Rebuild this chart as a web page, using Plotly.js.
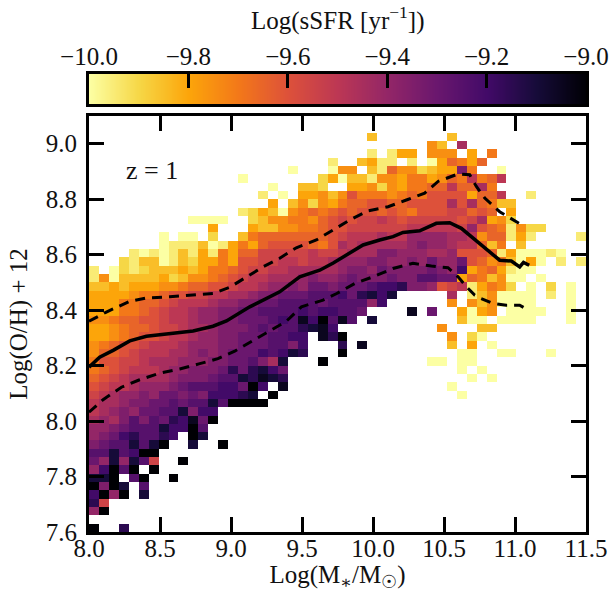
<!DOCTYPE html>
<html><head><meta charset="utf-8"><script src="https://cdn.plot.ly/plotly-3.0.1.min.js"></script>
<style>html,body{margin:0;padding:0;background:#fff}</style></head><body><div id="c" style="width:613px;height:592px"></div>
<script>
// Colour levels per cell: sSFR = -10 + 0.05*level. Each row (top to bottom) lists runs: [startColumn, level, level, ...]
const cellRows = [
[],[],
[[28,3],[36,3]],
[[34,5,3],[37,11]],
[[28,1],[30,1,4,4],[34,5,5,5],[38,4],[40,6]],
[[24,1],[27,3,4,1,1],[32,1],[34,0,4,7,6,4,7]],
[[20,0],[24,0,5,5],[28,3,1,7,5,5,2,3,4,4,13,6],[41,0]],
[[15,0],[23,2,4,0,3,3,1,5,5,4,6,6,4,5,7,6,10,6,7,10]],
[[18,0],[21,3,3,2],[26,4,4,5,2,5,4,6,6,7,7,10,7,7,11,6]],
[[17,1],[19,0],[21,4,4,5,3,5,8,6,6,6,5,6,7,6,8,8,8,8,4,7,7,10],[44,1]],
[[18,4],[20,3,5,2,5,4,6,7,7,8,8,7,7,8,8,8,8,11,8,11,7,6,3,3]],
[[15,1,2,4,3,0,5,6,7,6,7,8,7,8,8,7,8,7,6,8,8,8,9,9,7,8,7],[42,4]],
[[10,0,0,0,0],[16,2,3,5,5,6,6,5,7,8,9,8,9,9,10,9,8,9,9,9,9,9,8,9,11,4,5,2]],
[[12,4],[16,4,3,3,5,5,6,6,7,8,8,9,9,9,9,9,9,10,10,10,10,10,9,12,8,7,6,1,5,2,2]],
[[7,0],[9,0,0],[12,2],[15,3,6,7,7,7,7,7,7,7,8,9,10,10,10,11,10,10,12,12,12,12,11,11,10,5,7,7,1,4,1],[49,1]],
[[7,0,1,1,1,3,0,1,4,6,4,7,8,8,8,8,7,6,8,11,10,11,11,11,11,11,12,13,12,12,11,10,10,7,3,6],[43,3]],
[[4,1,0,1,0,1,3,1,4,1,6,4,7,7,9,9,9,9,9,10,9,9,10,11,11,11,13,13,12,12,12,11,11,12,8,8,8,7,1,4,0,0,0,1,0]],
[[3,2,1,3,3,0,1,3,2,4,4,6,4,8,8,9,9,10,10,9,10,10,11,12,12,12,13,13,12,12,13,12,14,12,12,14,8,7,5,6,3,0,4,0],[47,1],[49,1]],
[[0,1],[2,0,2,1,2,3,3,3,4,3,4,6,6,7,8,9,9,10,10,11,11,11,11,11,12,13,13,12,14,13,13,13,13,14,13,12,16,4,6,7,4,1,0,0]],
[[0,1,5,0,3,3,3,3,4,2,3,5,5,6,7,8,9,10,10,11,11,11,12,13,12,12,13,14,13,13,13,14,13,13,15,15,14,14,4,7,6,3,5,0,0],[45,0]],
[[0,3,3,4,3,4,4,4,5,5,6,7,7,8,8,9,10,10,11,12,12,13,12,14,14,13,14,14,14,15,16,16,17,13,13,12,8,9,10,1,4,6,5,2],[44,0],[46,2],[48,0]],
[[0,4,4,4,4,5,6,6,7,8,8,9,9,10,10,11,11,12,13,13,14,14,14,15,15,15,16,14,17,18,16,18],[36,11],[38,1,3,5,0,0,0,0],[46,1],[48,0]],
[[0,4,4,4,6,6,7,7,8,9,10,10,10,11,12,12,13,13,14,14,15,15,15,15,14,15,15,15,15,12,16],[36,5],[38,5,3,5,0,0,0,0],[48,0]],
[[0,4,4,4,6,6,7,8,9,10,10,11,12,12,13,13,14,14,15,15,15,15,16,15,16,16,15,15,14],[32,19],[34,14],[37,4,0,4,5],[42,0,0,0,0],[48,0]],
[[0,5,5,6,7,7,8,8,9,10,10,11,12,12,13,13,14,14,14,15,16,15,19,16,20,15,19,15],[28,18],[37,3,0,0],[41,0,0,0,0],[48,0]],
[[0,4,4,5,6,7,7,8,9,9,10,11,11,12,13,13,13,14,15,14,15,15,17,18,19,16],[35,5],[39,3,3]],
[[0,4,4,5,6,7,8,8,9,10,10,11,12,12,13,13,14,14,14,15,15,16,16],[23,19,17,20],[36,5],[38,2,0]],
[[0,5,6,7,8,8,9,10,10,10,11,12,12,12,13,13,14,14,14,15,15,13,16],[25,17],[27,19],[36,3],[38,4],[40,0]],
[[0,5,7,7,8,9,10,10,10,11,11,12,13,12,13,14,14,14,16,15,16,18,17],[25,20],[37,0,0],[41,0,0],[46,0]],
[[0,6,8,8,9,9,10,11,11,11,12,12,12,13,13,14,14,15,13,11,18],[23,20],[34,0,0],[37,0,0]],
[[0,6,7,8,9,10,10,10,11,12,12,13,13,13,14,17,14,17,18,16,14],[37,0],[39,0]],
[[0,7,8,9,10,11,11,11,11,12,13,13,13,14,15,15,18,17,19,18,17],[38,0],[40,0]],
[[0,8,9,10,10,11,12,12,12,13,14,15,15,15,16,16,14,20,16],[19,19],[36,0]],
[[0,9,10,11,12,12,13,12,14,14,13,14,13,16,16,16,17,18],[18,20],[37,0]],
[[0,10,11,11,12,13,13,14,14,15,14,15,15,18,15,20,20,20,20]],
[[0,10,11,12,13,12,14,14,15,15,18,13,16,16]],
[[0,11,12,11,13,15,13,15,14,17,16,19,14,20]],
[[0,12,12,13,14,15,15,15,18,16,16,20,15]],
[[0,12,13,14,16,17,15,15,17,16],[10,20,18]],
[[0,13,14,15,15,18,15,18,20],[10,18],[13,20]],
[[0,15,15,18,15,16,20,20]],
[[0,14,12,18,12,18,15,9],[9,20]],
[[0,12,16,20,15,20],[6,20]],
[[0,18,18,20],[4,15,20],[8,20]],
[[0,20,13,20,18],[5,15]],
[[0,16,20,12,20],[5,18]],
[[0,17,9]],
[[0,12,20]],
[],
[[0,20],[3,17]]
];
const medianX = [8.0,8.075,8.17,8.287,8.404,8.545,8.733,8.873,8.968,9.132,9.343,9.484,9.625,9.72,9.813,9.93,10.047,10.141,10.211,10.329,10.446,10.54,10.622,10.704,10.787,10.892,10.974,11.033,11.06,11.1];
const medianY = [8.194,8.23,8.255,8.289,8.306,8.315,8.325,8.342,8.361,8.412,8.466,8.52,8.544,8.57,8.599,8.635,8.653,8.665,8.68,8.686,8.713,8.715,8.695,8.659,8.623,8.58,8.577,8.556,8.572,8.562];
const upperX = [8.0,8.122,8.287,8.404,8.568,8.733,8.873,8.99,9.108,9.225,9.343,9.46,9.601,9.72,9.836,9.965,10.106,10.235,10.364,10.458,10.599,10.681,10.728,10.787,10.892,11.038];
const upperY = [8.36,8.393,8.432,8.444,8.448,8.454,8.46,8.482,8.52,8.556,8.587,8.625,8.653,8.69,8.725,8.758,8.773,8.797,8.822,8.864,8.891,8.888,8.846,8.804,8.755,8.71];
const lowerX = [8.0,8.099,8.228,8.357,8.498,8.639,8.78,8.908,9.026,9.155,9.284,9.39,9.496,9.648,9.745,9.871,10.0,10.141,10.282,10.411,10.528,10.599,10.658,10.716,10.751,10.845,10.939,11.033,11.092];
const lowerY = [8.032,8.077,8.122,8.149,8.173,8.188,8.207,8.225,8.252,8.291,8.33,8.36,8.412,8.436,8.46,8.496,8.52,8.55,8.569,8.559,8.553,8.52,8.484,8.454,8.444,8.424,8.418,8.418,8.4];
const cbTicks = [-10,-9.8,-9.6,-9.4,-9.2,-9];
const xTicks = [8,8.5,9,9.5,10,10.5,11,11.5];
const yTicks = [7.6,7.8,8,8.2,8.4,8.6,8.8,9];

const nCols=50, nRows=50, dx=0.07, dy=0.03;
const xc=[]; for(let i=0;i<nCols;i++) xc.push(8+dx*(i+0.5));
const yc=[]; for(let j=0;j<nRows;j++) yc.push(9.1-dy*(j+0.5));
const z=cellRows.map(segs=>{
  const r=new Array(nCols).fill(null);
  segs.forEach(s=>{for(let k=1;k<s.length;k++) r[s[0]+k-1]=-10+0.05*s[k];});
  return r;
});
const FONT='"Liberation Serif","DejaVu Serif",serif';
const TC='#111';
const inferno_r=[[0,'#fcffa4'],[0.1,'#f6d746'],[0.2,'#fca50a'],[0.3,'#f37819'],[0.4,'#dd513a'],[0.5,'#bc3754'],[0.6,'#932667'],[0.7,'#6a176e'],[0.8,'#420a68'],[0.9,'#160b39'],[1,'#000004']];
const lineTrace=(x,y,dash,w)=>({type:'scatter',mode:'lines',x,y,hoverinfo:'skip',showlegend:false,line:{color:'#000',width:w,dash}});
// gradient strip of the colour key
const cbX=[]; for(let i=0;i<=200;i++) cbX.push(-10+i/200);
const traces=[
{type:'heatmap',x:xc,y:yc,z,zmin:-10,zmax:-9,colorscale:inferno_r,showscale:false,hoverongaps:false},
lineTrace(upperX,upperY,'10px,7px',3),
lineTrace(lowerX,lowerY,'10px,7px',3),
lineTrace(medianX,medianY,'solid',3.5),
{type:'heatmap',xaxis:'x2',yaxis:'y2',x:cbX,y:[0,1],z:[cbX,cbX],zmin:-10,zmax:-9,colorscale:inferno_r,showscale:false,zsmooth:'best'}
];
const axis=(vals,range,text)=>({range,autorange:false,tickmode:'array',tickvals:vals,ticktext:vals.map(v=>v.toFixed(1)),ticks:'inside',ticklen:15,tickwidth:3,tickcolor:'#000',
 showline:true,linewidth:3,linecolor:'#000',mirror:'allticks',showgrid:false,zeroline:false,layer:'above traces',
 tickfont:{family:FONT,size:25,color:TC},title:{text,font:{family:FONT,size:25,color:TC}}});
const H=532, PLOT=416/H;
const layout={width:613,height:592,autosize:false,paper_bgcolor:'#fff',plot_bgcolor:'#fff',showlegend:false,
 margin:{l:89,r:27,t:0,b:60,pad:0},
 xaxis:Object.assign(axis(xTicks,[8,11.5],'Log(M<sub>∗</sub>/M<sub>☉</sub>)'),{anchor:'y',domain:[0,1],ticklabelstandoff:-8}),
 yaxis:Object.assign(axis(yTicks,[7.6,9.1],'Log(O/H) + 12'),{anchor:'x',domain:[0,PLOT],ticklabelstandoff:4}),
 xaxis2:Object.assign(axis(cbTicks,[-10,-9],''),{anchor:'y2',domain:[0,1],side:'top',ticklen:14,ticktext:cbTicks.map(v=>'−'+Math.abs(v).toFixed(1)),mirror:true,ticklabelstandoff:-4}),
 yaxis2:{anchor:'x2',domain:[(H-104)/H,(H-74)/H],range:[0,1],showticklabels:false,ticks:'',showline:true,linewidth:3,linecolor:'#000',mirror:true,showgrid:false,zeroline:false},
 annotations:[
  {xref:'x',yref:'y',x:8.444,y:8.902,text:'z = 1',showarrow:false,font:{family:FONT,size:26,color:TC}},
  {xref:'paper',yref:'paper',x:0.5,y:(H-18)/H,xanchor:'center',yanchor:'middle',text:'Log(sSFR [yr<sup>−1</sup>])',showarrow:false,font:{family:FONT,size:25,color:TC}}
 ]
};
layout.xaxis.title.standoff=12;
Plotly.newPlot('c',traces,layout,{displayModeBar:false});
</script></body></html>
